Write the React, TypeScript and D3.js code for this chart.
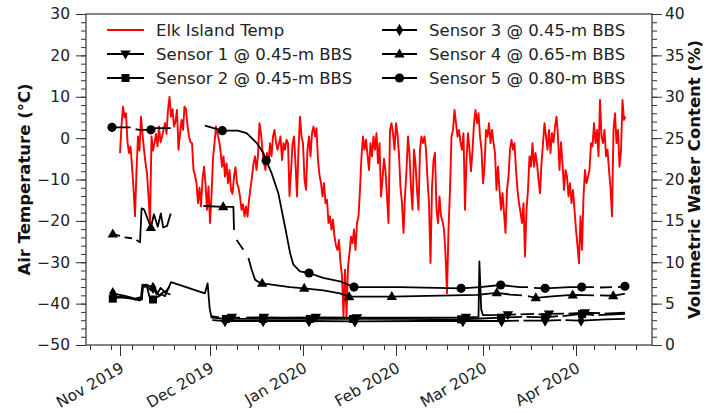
import React, { useEffect, useRef } from 'react';
import * as d3 from 'd3';

const DAY = 864e5;
const BASE = Date.UTC(2019, 10, 1); // 1 Nov 2019
const X_START = Date.UTC(2019, 9, 20, 16);
const X_END = Date.UTC(2020, 3, 26, 8);

// Elk Island air temperature (°C), one value every 12 h from 1 Nov 2019
const elkTemp = [
  -3.6, 3, 7.6, 5, 6, -1, -3.6, -2, -6.9, -12,
  -18.9, -8, 0.4, -3, 5.2, 1, -2.8, -6, -8.5, -14,
  -20.5, 0.4, -3, -1.2, 1, -2, 2.8, -1, 0.4, 2,
  3.6, 1, 6.8, 10, 5.2, 7, 2.8, 4, 6.8, -2.8,
  1, 4.4, 2, 7.6, 7, 3, 0.4, -1, -1.2, -7.7,
  -9, -10.9, -15.7, -12, -16.5, -10, -6.9, -11, -17.3, -11.7,
  -20.5, -14, -5, -1.2, 2.8, 1, -0.5, -3, -6.9, -4.4,
  -9.3, -6.1, -10.9, -7.7, -12.5, -13.5, -9.3, -7, -10.9, -12,
  -14.1, -17.3, -16, -18.9, -16.5, -19, -15, -12, -9.3, -6.1,
  -4.4, -7.7, -4, 3.6, 1, -3, -6.1, -7.7, -3.6, -6.1,
  -1.2, -4.4, 0.4, 2, -1, -2.8, -1.2, 0.4, -5.3, -1.2,
  -2.8, -0.4, -1.2, -14, -8, -1.5, 0.4, -6.1, -14.1, -2.8,
  5.2, 0.4, -1.2, -10, -12.5, -2.8, 0.4, -4.4, 1.2, 2.8,
  0.4, 2.4, -5.3, -9, -10.9, -14.1, -10.9, -15.7, -14.9, -20.5,
  -18.9, -22.1, -19.7, -23.8, -26, -27, -24.6, -30.2, -33.4, -43.1,
  -31.8, -43.1, -31, -27.8, -23.8, -25.4, -22.1, -27, -20.5, -18.9,
  -12.5, -4.4, 0.4, -2.8, -0.4, -4, -7.7, -1.2, -4.4, 0.4,
  -2.8, 1.2, -6.1, -1.2, -14.1, -10, -5, -8, -14, -20.5,
  2, 3.6, 1, -2.8, 3.6, 1, -4, -12, -15.7, -22.9,
  -14.1, -7.7, 0.4, -4, -12, -17.3, -2.8, -6.1, -12.5, -17.3,
  -2.8, 0.4, -1.2, 0.4, -2.8, -10, -15.7, -30.2, -12, -5.3,
  -3.6, -17.3, -20.5, -14.1, -18.9, -20, -22.1, -28, -37.5, -22.1,
  -12.5, 0.4, 2, 6.8, 3.6, 0.4, 2, -1, -2.8, 1.2,
  -17.3, -5.3, 1.2, -2.8, -8, -3, 3.6, 6.8, 3.6, 6,
  0.4, -2.8, -10.9, -6.9, 2, 0.4, 3.6, -1.2, 2, -1,
  -3.6, -12.5, -6.9, -12.5, -17.3, -13.3, -18, -22.9, -12.5, -9.3,
  -2.8, -0.4, -2.8, -1.2, -7.7, -12.5, -15.7, -18, -20.5, -15.7,
  -28.6, -17.3, -12.5, -4.4, -6.9, -1.2, -6.9, -3.6, -6.1, -10,
  -13.3, -6.1, -1.2, 3.6, 0.4, -2.8, 2, -3.6, 1.2, -1,
  2.8, 5.2, 0.4, -7.7, -1, -6, -12.5, -7.7, -9.3, -14.1,
  -10.9, -15.7, -12.5, -17.3, -22.1, -26, -30.2, -18.9, -27, -14.1,
  -7.7, -10.9, -9.3, -7.7, -1.2, -2, 3.6, -1.2, 2, -4.4,
  9.2, 0.4, -1.2, 2, -4.4, -2.8, -7.7, -12, -18.9, 2,
  6, -1.2, 2, -6.9, -3, 9.2, 4.4, 5.2,
];

// VWC (%): [days since 1 Nov 2019, value, marker?]; null value = gap
type Pt = [number, number | null, number?];

const sensor1: Pt[] = [
  [-2.4, 5.9], [2, 5.75], [5, 5.5], [7.2, 5.6], [7.6, 7.0], [9, 7.1], [10.3, 6.6], [11.5, 6.9],
  [13, 6.0], [14.5, 6.4], [16.8, 6.1], [17, null],
  [30.4, 3.5], [33, 3.35], [34.5, null], [35.5, 3.35], [37.3, 3.35, 1], [40, 3.3], [41, null],
  [42, 3.3], [48, 3.35, 1], [55, 3.3], [65.3, 3.35, 1], [79, 3.3, 1], [100, 3.3], [115.3, 3.35, 1],
  [119.5, 3.4], [119.8, 10.1], [120.4, 4.3], [121, 3.6], [129.3, 3.65, 1], [132, 3.7], [132.5, null],
  [133.5, 3.7], [138, 3.75], [138.5, null], [139.5, 3.7], [143, 3.75, 1], [148, 3.8], [148.5, null],
  [149.5, 3.8], [155, 3.9, 1], [160, 3.85], [160.5, null], [161.5, 3.8], [168.3, 3.9],
];

const sensor2: Pt[] = [
  [-2.4, 5.6, 1], [0, 5.75], [4, 5.6], [6.5, 5.4], [7.3, 5.5], [7.6, 7.2], [8.8, 7.3], [10, 5.6],
  [11, 5.5, 1], [12.5, 5.8], [14, 6.1], [15, 5.9], [17, 7.6], [28.3, 6.25], [29.2, 7.45], [29.9, 4.4],
  [30.5, 3.3], [35.3, 3.15, 1], [47.7, 3.15, 1], [63.3, 3.15, 1], [77.7, 3.15, 1], [95, 3.15],
  [113.7, 3.1, 1], [120.5, 3.2], [127, 3.3, 1], [134, 3.4], [134.5, null], [135.5, 3.4],
  [141.7, 3.35, 1], [146, 3.5], [146.5, null], [147.5, 3.5], [154, 3.75, 1], [158, 3.6],
  [158.5, null], [159.5, 3.6], [168.3, 3.75],
];

const sensor3: Pt[] = [
  [-2.4, 6.25, 1], [2, 5.9], [5, 5.6], [7.0, 5.8], [7.5, 7.3], [9.5, 7.2], [11, 6.9, 1], [12.3, 6.1],
  [13.5, 6.9], [15, 6.4], [16.5, 7.0], [17, null],
  [30.8, 3.0], [35, 2.9, 1], [47.7, 2.9, 1], [63, 2.9, 1], [78.3, 2.85, 1], [100, 2.9],
  [114.3, 2.9, 1], [127.2, 2.9, 1], [133, 2.95], [133.5, null], [134.5, 2.95], [141.7, 2.95, 1],
  [147, 3.0], [147.5, null], [148.5, 3.0], [153.7, 2.95, 1], [162, 3.1], [168.3, 3.15],
];

const sensor4: Pt[] = [
  [-2.4, 13.4, 1], [0, 13.2], [0.5, null], [1.5, 13.0], [4, 12.9], [4.5, null], [5.5, 12.7],
  [6.67, 12.4], [7.2, 16.5], [8, 16.4], [10.3, 14.2, 1], [11.3, 15.8], [12.6, 14.3], [13.6, 15.9],
  [14.4, 14.2], [15.7, 14.4], [16.9, 15.9], [17, null],
  [27.8, 16.8], [34.4, 16.7, 1], [37.8, 16.7], [38, 13.9], [38.1, null], [38.9, 12.7], [41.1, 11.5],
  [41.5, null], [42.8, 10.5], [43.9, 9.1], [45, 7.9], [46.7, 7.5], [47.4, 7.45, 1], [56.7, 7.0],
  [61.4, 6.85, 1], [67.8, 6.6], [73.3, 6.25], [76.4, 5.84, 1], [90.6, 5.85, 1], [118.9, 6.05],
  [125.6, 6.3, 1], [130, 6.1], [134, 6.0], [134.5, null], [136, 5.9], [138.6, 5.7, 1], [145, 5.9],
  [150.9, 6.05, 1], [158, 6.0], [158.5, null], [160, 6.0], [164.4, 5.95, 1], [168.3, 6.2],
];

const sensor5: Pt[] = [
  [-2.67, 26.3, 1], [3.5, 26.3], [4.2, null], [5.2, 26.1], [6.3, 26.0], [10.3, 26.0, 1], [12, 26.2],
  [16.9, 26.2], [17, null],
  [28.3, 26.5], [34.1, 25.9, 1], [39.3, 25.9], [42.2, 25.6], [45.6, 24.4], [47.8, 23.2],
  [48.7, 22.3, 1], [50.6, 20.7], [52.8, 18.3], [55, 14.3], [56.7, 11.1], [57.8, 9.7], [60, 8.9],
  [63, 8.7, 1], [67.7, 8.1], [73.3, 7.7], [78, 7.0, 1], [93.3, 7.0], [113.7, 6.85, 1], [120, 7.0],
  [126.9, 7.25, 1], [133.3, 7.0], [136, 7.0], [136.5, null], [138, 6.9], [141.7, 6.85, 1], [150, 7.0],
  [153.9, 7.0, 1], [158, 7.0], [158.5, null], [160, 6.95], [164, 7.0], [164.5, null], [166, 7.0],
  [168.3, 7.1, 1],
];

type Marker = 'none' | 'tridown' | 'square' | 'diamond' | 'triup' | 'circle';

const series: { label: string; data: Pt[]; marker: Marker }[] = [
  { label: 'Sensor 1 @ 0.45-m BBS', data: sensor1, marker: 'tridown' },
  { label: 'Sensor 2 @ 0.45-m BBS', data: sensor2, marker: 'square' },
  { label: 'Sensor 3 @ 0.45-m BBS', data: sensor3, marker: 'diamond' },
  { label: 'Sensor 4 @ 0.65-m BBS', data: sensor4, marker: 'triup' },
  { label: 'Sensor 5 @ 0.80-m BBS', data: sensor5, marker: 'circle' },
];

const legendCols: { label: string; marker: Marker; color: string }[][] = [
  [
    { label: 'Elk Island Temp', marker: 'none', color: 'red' },
    { label: series[0].label, marker: series[0].marker, color: '#000' },
    { label: series[1].label, marker: series[1].marker, color: '#000' },
  ],
  [
    { label: series[2].label, marker: series[2].marker, color: '#000' },
    { label: series[3].label, marker: series[3].marker, color: '#000' },
    { label: series[4].label, marker: series[4].marker, color: '#000' },
  ],
];

const markerPath = (m: Marker) => {
  switch (m) {
    case 'tridown': return 'M0,5.5L5.2,-3.5L-5.2,-3.5Z';
    case 'triup': return 'M0,-5.5L5.2,3.5L-5.2,3.5Z';
    case 'square': return 'M-4,-4H4V4H-4Z';
    case 'diamond': return 'M0,-6.2L3.6,0L0,6.2L-3.6,0Z';
    case 'circle': return 'M4.6,0A4.6,4.6 0 1,1 -4.6,0A4.6,4.6 0 1,1 4.6,0Z';
    default: return '';
  }
};

const FONT = '"DejaVu Sans", sans-serif';

const App = () => {
  const svgRef = useRef<SVGSVGElement>(null);

  useEffect(() => {
    const L = 86, R = 652, T = 14, B = 345;
    const svg = d3.select(svgRef.current);
    svg.selectAll('*').remove();

    const x = d3.scaleUtc().domain([new Date(X_START), new Date(X_END)]).range([L, R]);
    const yT = d3.scaleLinear().domain([-50, 30]).range([B, T]);
    const yV = d3.scaleLinear().domain([0, 40]).range([B, T]);
    const dayToDate = (d: number) => new Date(BASE + d * DAY);

    // temperature line
    const tempLine = d3.line<number>()
      .x((_, i) => x(new Date(BASE + i * DAY / 2)))
      .y(d => yT(d));
    svg.append('path')
      .attr('d', tempLine(elkTemp))
      .attr('fill', 'none')
      .attr('stroke', '#ff0000')
      .attr('stroke-width', 1.9)
      .attr('stroke-linejoin', 'round');

    // sensor lines
    const sLine = d3.line<Pt>()
      .defined(d => d[1] != null)
      .x(d => x(dayToDate(d[0])))
      .y(d => yV(d[1] as number));
    series.forEach(s => {
      svg.append('path')
        .attr('d', sLine(s.data))
        .attr('fill', 'none')
        .attr('stroke', '#000')
        .attr('stroke-width', 1.8)
        .attr('stroke-linejoin', 'round');
    });
    series.forEach(s => {
      svg.append('g').selectAll('path')
        .data(s.data.filter(d => d[2] && d[1] != null))
        .enter().append('path')
        .attr('d', markerPath(s.marker))
        .attr('transform', d => `translate(${x(dayToDate(d[0]))},${yV(d[1] as number)})`)
        .attr('fill', '#000');
    });

    // frame
    svg.append('rect')
      .attr('x', L).attr('y', T).attr('width', R - L).attr('height', B - T)
      .attr('fill', 'none').attr('stroke', '#333').attr('stroke-width', 1.2);

    const styleAxis = (g: d3.Selection<SVGGElement, unknown, null, undefined>) => {
      g.select('.domain').remove();
      g.selectAll('line').attr('stroke', '#333').attr('stroke-width', 1);
      g.selectAll('text').attr('font-family', FONT).attr('font-size', 15.5).attr('fill', '#222');
    };

    // left axis
    svg.append('g').attr('transform', `translate(${L},0)`)
      .call(d3.axisLeft(yT).tickValues(d3.range(-50, 31, 2)).tickSize(5).tickFormat(() => ''))
      .call(styleAxis);
    svg.append('g').attr('transform', `translate(${L},0)`)
      .call(d3.axisLeft(yT).tickValues(d3.range(-50, 31, 10)).tickSize(10).tickPadding(6).tickFormat(d3.format('d')))
      .call(styleAxis);

    // right axis
    svg.append('g').attr('transform', `translate(${R},0)`)
      .call(d3.axisRight(yV).tickValues(d3.range(0, 41, 1)).tickSize(5).tickFormat(() => ''))
      .call(styleAxis);
    svg.append('g').attr('transform', `translate(${R},0)`)
      .call(d3.axisRight(yV).tickValues(d3.range(0, 41, 5)).tickSize(10).tickPadding(3).tickFormat(d3.format('d')))
      .call(styleAxis);

    // bottom axis
    svg.append('g').attr('transform', `translate(0,${B})`)
      .call(d3.axisBottom(x).tickValues(d3.utcTuesday.range(new Date(X_START), new Date(X_END))).tickSize(5).tickFormat(() => ''))
      .call(styleAxis);
    const months = d3.utcMonth.range(new Date(X_START), new Date(X_END));
    svg.append('g').attr('transform', `translate(0,${B})`)
      .call(d3.axisBottom(x).tickValues(months).tickSize(11).tickFormat(() => ''))
      .call(styleAxis);
    const fmt = d3.utcFormat('%b %Y');
    svg.append('g').selectAll('text')
      .data(months)
      .enter().append('text')
      .attr('transform', d => `translate(${x(d) + 5},${B + 26}) rotate(-30)`)
      .attr('text-anchor', 'end')
      .attr('font-family', FONT).attr('font-size', 15.5).attr('fill', '#222')
      .text(d => fmt(d));

    // axis titles
    svg.append('text')
      .attr('transform', `translate(30,${(T + B) / 2}) rotate(-90)`)
      .attr('text-anchor', 'middle')
      .attr('font-family', FONT).attr('font-size', 16.5).attr('font-weight', 'bold').attr('fill', '#111')
      .text('Air Temperature (°C)');
    svg.append('text')
      .attr('transform', `translate(700,${(T + B) / 2}) rotate(-90)`)
      .attr('text-anchor', 'middle')
      .attr('font-family', FONT).attr('font-size', 16.5).attr('font-weight', 'bold').attr('fill', '#111')
      .text('Volumetric Water Content (%)');

    // legend
    const colX = [[107, 144, 156], [382, 417, 429]];
    legendCols.forEach((col, ci) => {
      const [x1, x2, tx] = colX[ci];
      col.forEach((item, ri) => {
        const yy = 30 + ri * 24;
        const row = svg.append('g');
        row.append('line').attr('x1', x1).attr('x2', x2).attr('y1', yy).attr('y2', yy)
          .attr('stroke', item.color).attr('stroke-width', 2);
        if (item.marker !== 'none') {
          row.append('path').attr('d', markerPath(item.marker))
            .attr('transform', `translate(${(x1 + x2) / 2},${yy})`).attr('fill', '#000');
        }
        row.append('text').attr('x', tx).attr('y', yy).attr('dy', '0.36em')
          .attr('font-family', FONT).attr('font-size', 16.5).attr('fill', '#222')
          .text(item.label);
      });
    });
  }, []);

  return (
    <svg ref={svgRef} width={706} height={413}
      style={{ position: 'absolute', left: 0, top: 0, background: '#fff' }} />
  );
};

export default App;
